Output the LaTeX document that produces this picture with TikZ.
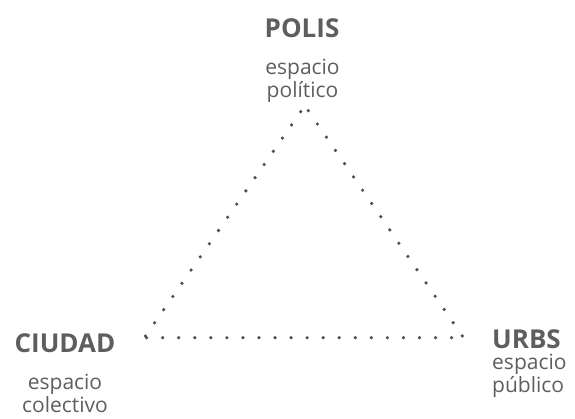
\documentclass[tikz,border=0pt]{standalone}
\usepackage{fontspec}
\setmainfont{Open Sans}
\definecolor{textgray}{HTML}{5E5E5E}
\definecolor{dotgray}{HTML}{4F4F4F}
\tikzstyle{title-node}=[text=textgray,font=\fontsize{26}{30}\selectfont\bfseries,inner sep=0pt,anchor=base]
\tikzstyle{sub-node}=[text=textgray,font=\fontsize{21}{23}\selectfont,inner sep=0pt,align=center,anchor=base]
\tikzstyle{dot-line}=[draw=dotgray,line width=3.6pt,line cap=round,dash pattern=on 0pt off 16.05pt]

\begin{document}
\begin{tikzpicture}[x=1pt,y=-1pt]
	\useasboundingbox (0,0) rectangle (575,419);

	\begin{scope}
	\coordinate (top-l) at (300.7,111.7);
	\coordinate (top-r) at (308.3,110.7);
	\coordinate (left-c) at (145,336.7);
	\coordinate (right-c) at (462.3,336);
	\coordinate (base-l) at (146.6,337.7);
	\coordinate (base-r) at (452,337.7);
	\end{scope}

	\begin{scope}
	\path [dot-line] (top-l) -- (left-c);
	\path [dot-line] (top-r) -- (right-c);
	\path [dot-line] (base-l) -- (base-r);
	\end{scope}

	\begin{scope}
	\node (polis)[title-node] at (302,38) {POLIS};
	\node (polis-sub)[sub-node] at (302.5,98) {espacio\\político};

	\node (ciudad)[title-node] at (65,352) {CIUDAD};
	\node (ciudad-sub)[sub-node] at (65,412) {espacio\\colectivo};

	\node (urbs)[title-node,anchor=base west] at (492,348) {URBS};
	\node (urbs-sub)[sub-node,anchor=base west,align=left] at (492,392) {espacio\\público};
	\end{scope}
\end{tikzpicture}
\end{document}
